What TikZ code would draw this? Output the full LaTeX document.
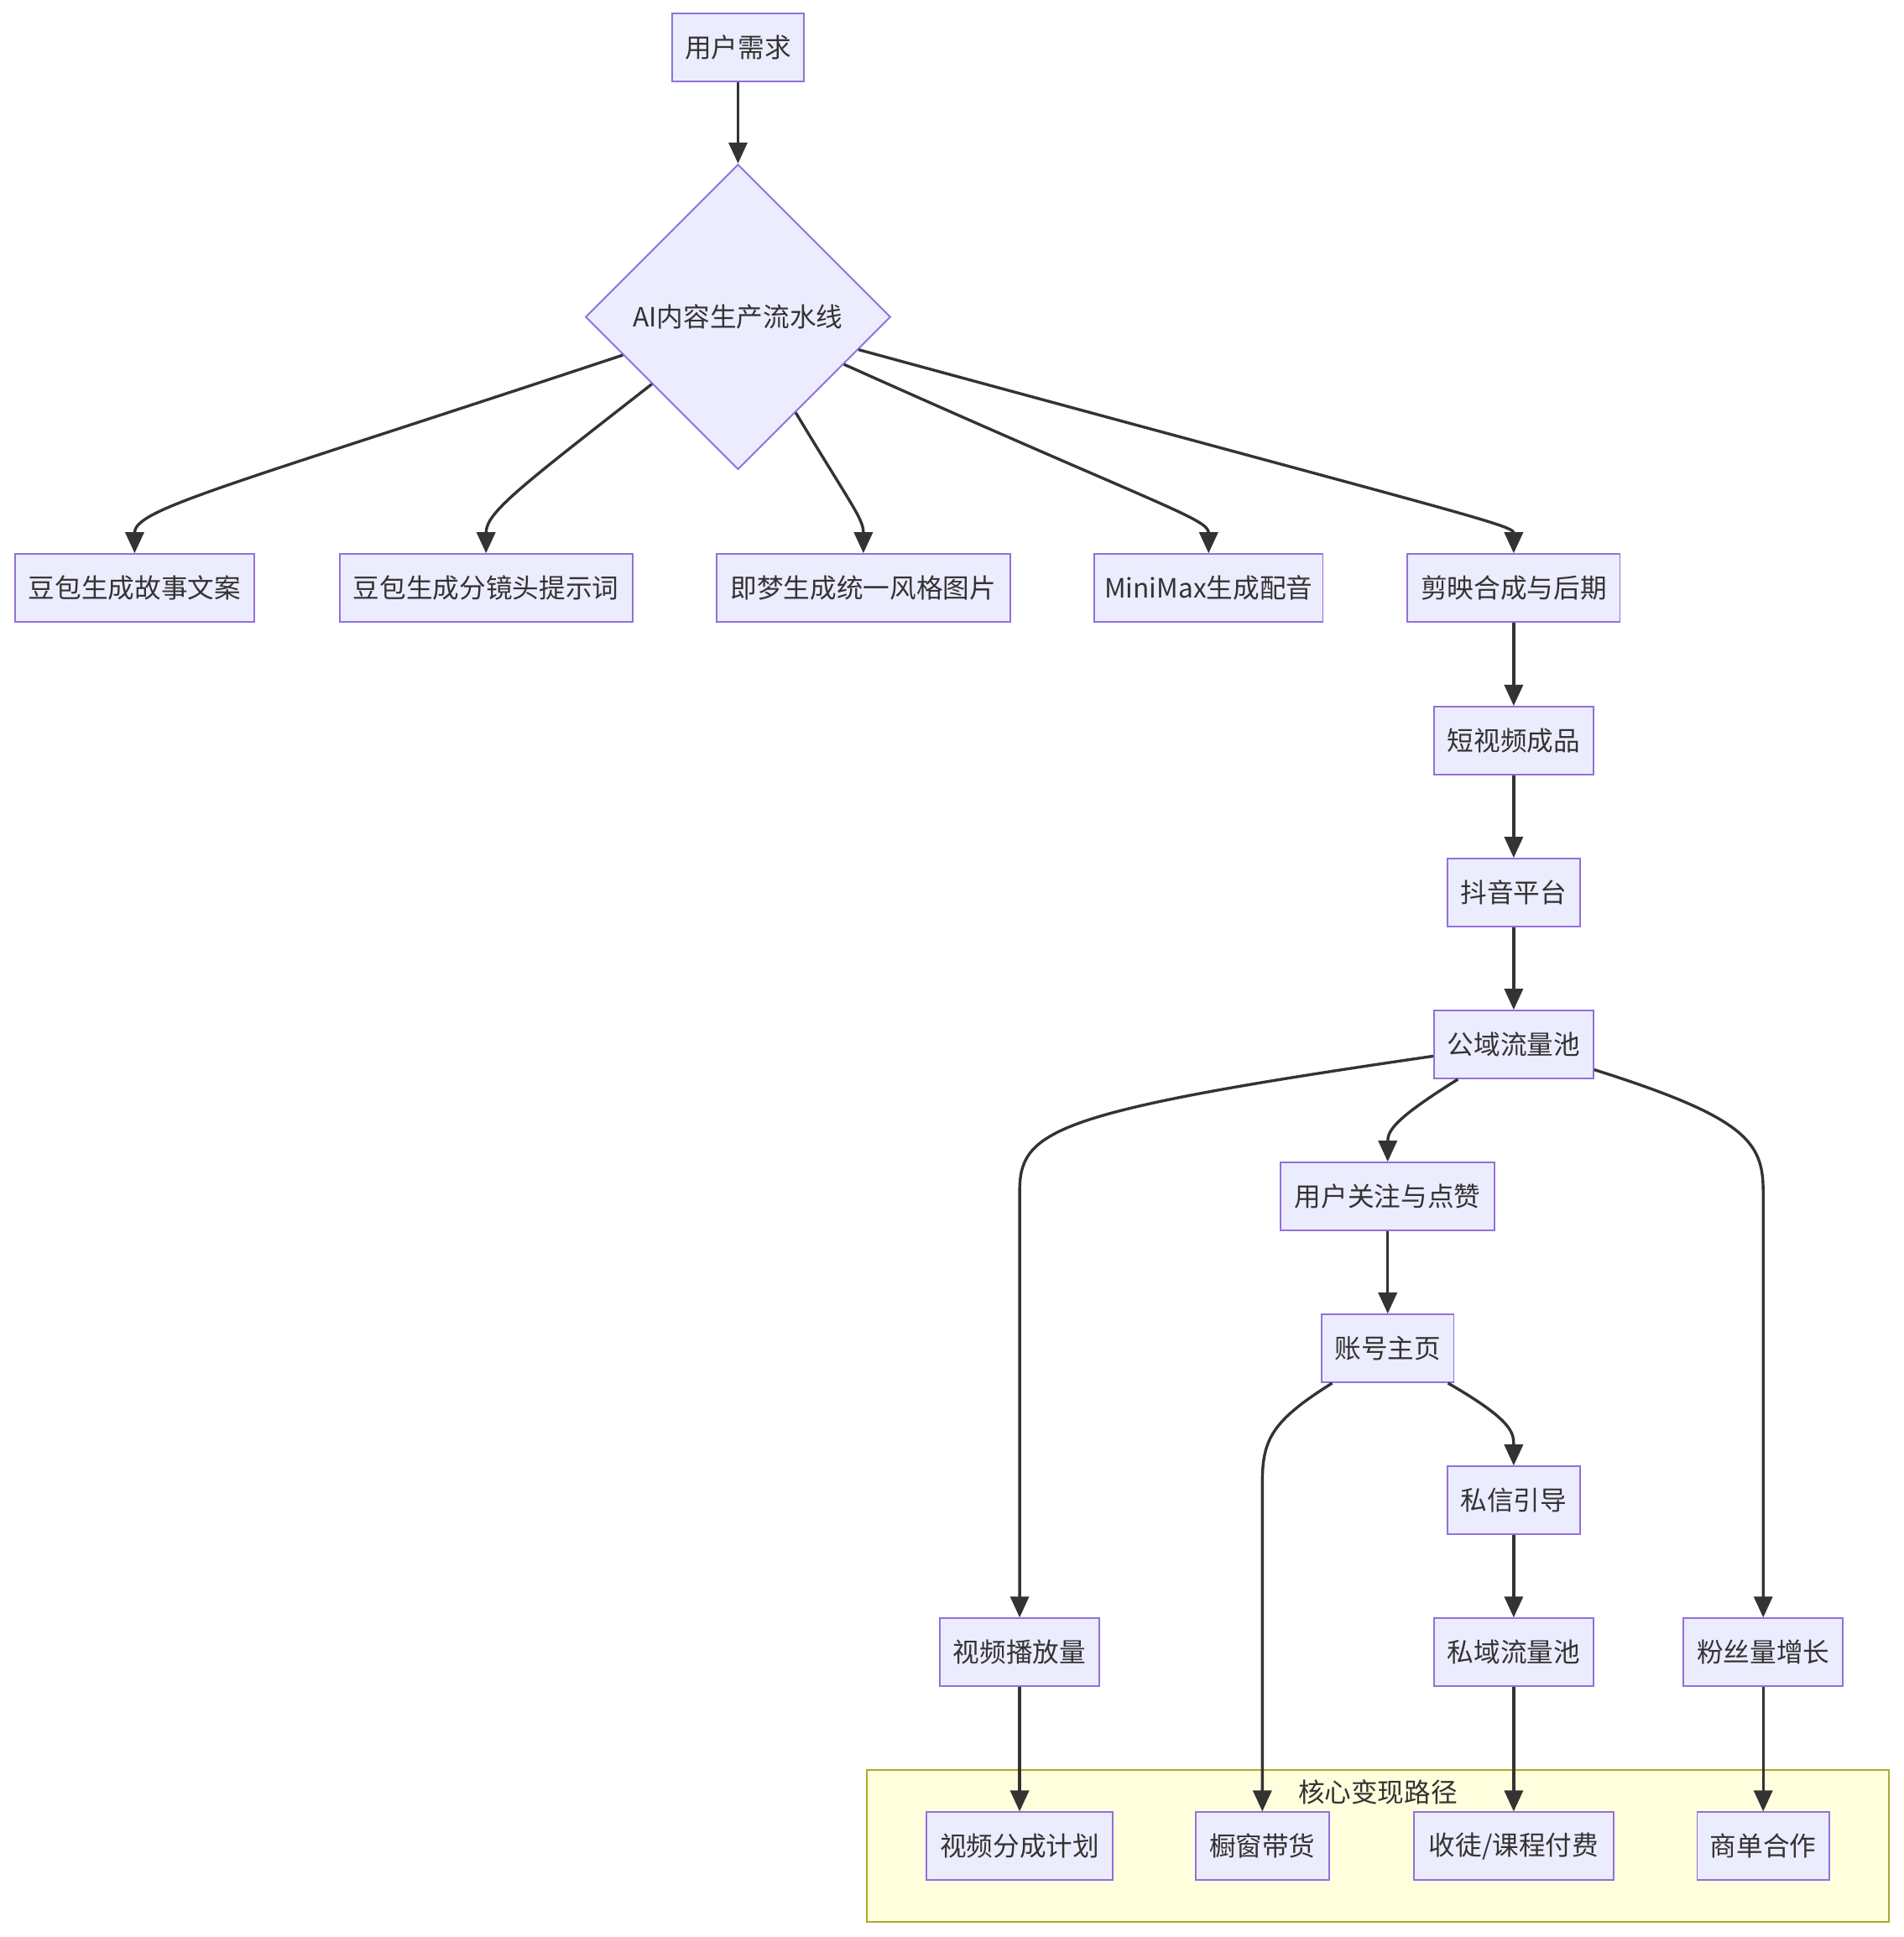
\documentclass[tikz,border=0pt]{standalone}
\usepackage{fontspec}
\setmainfont{Noto Sans CJK SC}
\usetikzlibrary{shapes.geometric,arrows.meta}
\definecolor{boxfill}{HTML}{ECECFF}
\definecolor{boxline}{HTML}{9370DB}
\definecolor{txt}{HTML}{333333}
\definecolor{edgec}{HTML}{333333}
\definecolor{sgfill}{HTML}{FFFFDE}
\definecolor{sgline}{HTML}{AAAA33}
\begin{document}
\begin{tikzpicture}[x=1pt,y=-1pt,
  box/.style={draw=boxline,fill=boxfill,line width=1.3pt,minimum height=55pt,inner sep=0pt,text=txt,font=\fontsize{21.5}{26}\selectfont},
  decision/.style={diamond,draw=boxline,fill=boxfill,line width=1.3pt,minimum width=247pt,minimum height=247pt,inner sep=0pt,text=txt,font=\fontsize{21.5}{26}\selectfont},
  arr/.style={draw=edgec,line width=2.3pt,-{Triangle[length=17pt,width=15pt]}},
  group/.style={draw=sgline,fill=sgfill,line width=1.3pt,inner sep=0pt},
  grouptitle/.style={text=txt,inner sep=0pt,font=\fontsize{21.5}{26}\selectfont},
]
\useasboundingbox (0,0) rectangle (1541,1568);
\node[group,minimum width=827pt,minimum height=123pt] (sg) at (1115.5,1494.5) {};
\node[grouptitle] (sgt) at (1115.5,1451) {核心变现路径};
\node[box,minimum width=107pt] (user) at (597.5,38.5) {用户需求};
\node[decision] (dia) at (597.5,256.5) {AI内容生产流水线};
\node[box,minimum width=194pt] (a1) at (109,476) {豆包生成故事文案};
\node[box,minimum width=237pt] (a2) at (393.5,476) {豆包生成分镜头提示词};
\node[box,minimum width=238pt] (a3) at (699,476) {即梦生成统一风格图片};
\node[box,minimum width=185pt] (a4) at (978.5,476) {MiniMax生成配音};
\node[box,minimum width=172pt] (a5) at (1225.5,476) {剪映合成与后期};
\node[box,minimum width=129pt] (dsp) at (1225.5,599.5) {短视频成品};
\node[box,minimum width=107pt] (dy) at (1225.5,722.5) {抖音平台};
\node[box,minimum width=129pt] (gy) at (1225.5,845.5) {公域流量池};
\node[box,minimum width=173pt] (gz) at (1123.5,968.5) {用户关注与点赞};
\node[box,minimum width=107pt] (zh) at (1123.5,1091.5) {账号主页};
\node[box,minimum width=107pt] (sx) at (1225.5,1214.5) {私信引导};
\node[box,minimum width=129pt] (bf) at (825.5,1337.5) {视频播放量};
\node[box,minimum width=129pt] (sy) at (1225.5,1337.5) {私域流量池};
\node[box,minimum width=129pt] (fs) at (1427.5,1337.5) {粉丝量增长};
\node[box,minimum width=151pt] (fc) at (825.5,1494.5) {视频分成计划};
\node[box,minimum width=108pt] (cc) at (1022,1494.5) {橱窗带货};
\node[box,minimum width=162pt] (st) at (1225.5,1494.5) {收徒/课程付费};
\node[box,minimum width=107pt] (sd) at (1427.5,1494.5) {商单合作};

\draw[arr] (user) -- (dia);
\draw[arr] (dia) .. controls (180,395) and (109,412) .. (a1.north);
\draw[arr] (dia) .. controls (420,395) and (393.5,415) .. (a2.north);
\draw[arr] (dia) .. controls (690,410) and (699,420) .. (a3.north);
\draw[arr] (dia) .. controls (940,410) and (978.5,420) .. (a4.north);
\draw[arr] (dia) .. controls (1180,415) and (1225.5,425) .. (a5.north);
\draw[arr] (a5) -- (dsp);
\draw[arr] (dsp) -- (dy);
\draw[arr] (dy) -- (gy);
\draw[arr] (gy) .. controls (850,900) and (825.5,915) .. (825.5,965) -- (bf.north);
\draw[arr] (gy) .. controls (1130,905) and (1123.5,915) .. (gz.north);
\draw[arr] (gy) .. controls (1415,905) and (1427.5,925) .. (1427.5,965) -- (fs.north);
\draw[arr] (gz) -- (zh);
\draw[arr] (zh) .. controls (1030,1150) and (1022,1165) .. (1022,1200) -- (cc.north);
\draw[arr] (zh) .. controls (1225,1150) and (1225.5,1160) .. (sx.north);
\draw[arr] (sx) -- (sy);
\draw[arr] (bf) -- (fc);
\draw[arr] (sy) -- (st);
\draw[arr] (fs) -- (sd);
\end{tikzpicture}
\end{document}
